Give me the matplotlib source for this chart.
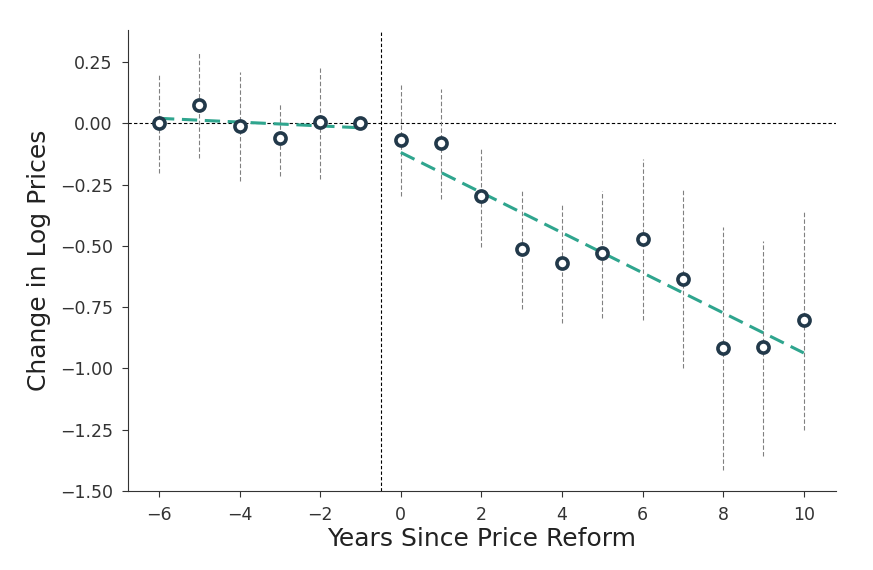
import numpy as np
import matplotlib
matplotlib.use("Agg")
import matplotlib.pyplot as plt

# event-study estimates, relative to year -1
years = [-6, -5, -4, -3, -2, -1, 0, 1, 2, 3, 4, 5, 6, 7, 8, 9, 10]
coef = [0.003, 0.073, -0.012, -0.061, 0.004, 0.0, -0.069, -0.082, -0.298,
        -0.514, -0.571, -0.530, -0.473, -0.636, -0.917, -0.913, -0.803]
ci_low = [-0.204, -0.143, -0.236, -0.216, -0.228, 0.0, -0.298, -0.310, -0.505,
          -0.758, -0.815, -0.795, -0.803, -1.000, -1.415, -1.358, -1.250]
ci_high = [0.204, 0.290, 0.208, 0.077, 0.224, 0.0, 0.155, 0.139, -0.098,
           -0.269, -0.330, -0.277, -0.147, -0.273, -0.424, -0.481, -0.363]

years = np.array(years)
coef = np.array(coef)
ci_low = np.array(ci_low)
ci_high = np.array(ci_high)

fig = plt.figure(figsize=(8.73, 5.70), dpi=100)
ax = fig.add_axes([0.1466, 0.1386, 0.811, 0.808])

# reference lines
ax.axhline(0, color="black", linestyle=(0, (3, 2)), linewidth=0.8, zorder=1)
ax.axvline(-0.5, color="black", linestyle=(0, (3, 2)), linewidth=0.8, zorder=1)

# confidence intervals
has_ci = years != -1
ax.vlines(years[has_ci], ci_low[has_ci], ci_high[has_ci], color="gray",
          linestyle=(0, (4, 2)), linewidth=0.8, zorder=2)

# linear fits pre/post
pre = years < 0
post = years >= 0
for mask in [pre, post]:
    b, a = np.polyfit(years[mask], coef[mask], 1)
    xs = np.array([years[mask].min(), years[mask].max()])
    ax.plot(xs, a + b * xs, color="#2fa58e", linestyle=(0, (5, 2.5)),
            linewidth=2.2, zorder=3)

ax.plot(years, coef, "o", markersize=8, markerfacecolor="white",
        markeredgecolor="#22394a", markeredgewidth=2.6, zorder=4)

ax.set_xlim(-6.77, 10.8)
ax.set_ylim(-1.5, 0.379)
ax.set_xticks([-6, -4, -2, 0, 2, 4, 6, 8, 10])
ax.set_yticks([0.25, 0.0, -0.25, -0.5, -0.75, -1.0, -1.25, -1.5])

ax.spines["top"].set_visible(False)
ax.spines["right"].set_visible(False)
for s in ["left", "bottom"]:
    ax.spines[s].set_color("#333333")
ax.tick_params(labelsize=12.5, colors="#333333", length=4, pad=7)

ax.set_xlabel("Years Since Price Reform", fontsize=18, color="#222222",
              labelpad=2)
ax.set_ylabel("Change in Log Prices", fontsize=18, color="#222222",
              labelpad=6)

fig.savefig("out.png", dpi=100)
